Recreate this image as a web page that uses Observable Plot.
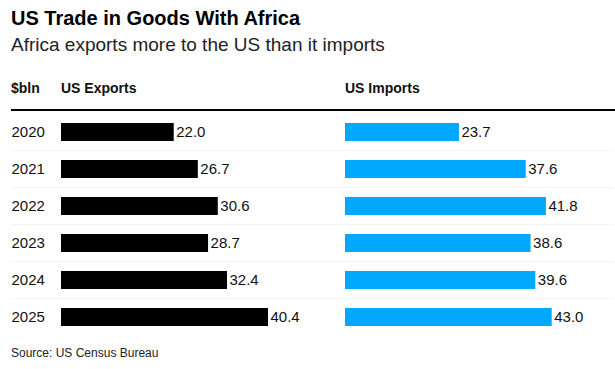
<!DOCTYPE html>
<html>
<head>
<meta charset="utf-8">
<script src="https://cdn.jsdelivr.net/npm/d3@7"></script>
<script src="https://cdn.jsdelivr.net/npm/@observablehq/plot@0.6"></script>
<style>
  html, body { margin: 0; padding: 0; background: #fff; }
  body { width: 615px; height: 369px; position: relative; overflow: hidden;
         font-family: "Liberation Sans", Arial, sans-serif; color: #000; }
  .abs { position: absolute; white-space: nowrap; }
  #title { left: 11px; top: 8px; font-size: 20px; line-height: 20px; font-weight: bold; }
  #subtitle { left: 11px; top: 35px; font-size: 19px; line-height: 19px; color: #222; }
  .hdr { top: 81px; font-size: 14px; line-height: 14px; font-weight: bold; color: #111; }
  #rule { left: 11px; top: 109px; width: 604px; height: 2px; background: #000; }
  #charts { left: 0; top: 111px; display: flex; }
  #charts svg { display: block; }
  #source { left: 11px; top: 347px; font-size: 12px; line-height: 12px; color: #222; }
</style>
</head>
<body>
<div id="title" class="abs">US Trade in Goods With Africa</div>
<div id="subtitle" class="abs">Africa exports more to the US than it imports</div>
<div class="abs hdr" style="left:11px">$bln</div>
<div class="abs hdr" style="left:61px">US Exports</div>
<div class="abs hdr" style="left:345px">US Imports</div>
<div id="rule" class="abs"></div>
<div id="charts" class="abs"></div>
<div id="source" class="abs">Source: US Census Bureau</div>
<script>
const years = ["2020", "2021", "2022", "2023", "2024", "2025"];
const usExports = [22.0, 26.7, 30.6, 28.7, 32.4, 40.4];
const usImports = [23.7, 37.6, 41.8, 38.6, 39.6, 43.0];

const exportsData = years.map((year, i) => ({year, value: usExports[i]}));
const importsData = years.map((year, i) => ({year, value: usImports[i]}));

const H = 227;
const step = H / years.length;
const font = "'Liberation Sans', Arial, sans-serif";

function panel({data, width, marginLeft, marginRight, range, color, labels}) {
  const marks = [
    Plot.ruleY(years.slice(1), {y: d => d, dy: -step / 2, stroke: "#f3f3f3", strokeWidth: 1}),
    Plot.barX(data, {x: "value", y: "year", fill: color}),
    Plot.text(data, {x: "value", y: "year", text: d => d.value.toFixed(1),
      textAnchor: "start", dx: 2, fontSize: 15, fill: "#111"})
  ];
  if (labels) {
    marks.push(Plot.text(years, {y: d => d, frameAnchor: "left", textAnchor: "start",
      fontSize: 15, fill: "#111"}));
  }
  return Plot.plot({
    width, height: H,
    marginLeft, marginRight, marginTop: 0, marginBottom: 0,
    style: {fontFamily: font, background: "transparent", overflow: "visible"},
    x: {domain: [0, d3.max(data, d => d.value)], range, axis: null},
    y: {domain: years, paddingInner: 1 - 18 / step, paddingOuter: (1 - 18 / step) / 2, axis: null},
    marks
  });
}

const left = panel({data: exportsData, width: 330, marginLeft: 11, marginRight: 0,
  range: [61, 268], color: "#000000", labels: true});
const right = panel({data: importsData, width: 285, marginLeft: 0, marginRight: 1,
  range: [15, 221.7], color: "#00a8ff", labels: false});

document.getElementById("charts").append(left, right);
</script>
</body>
</html>
